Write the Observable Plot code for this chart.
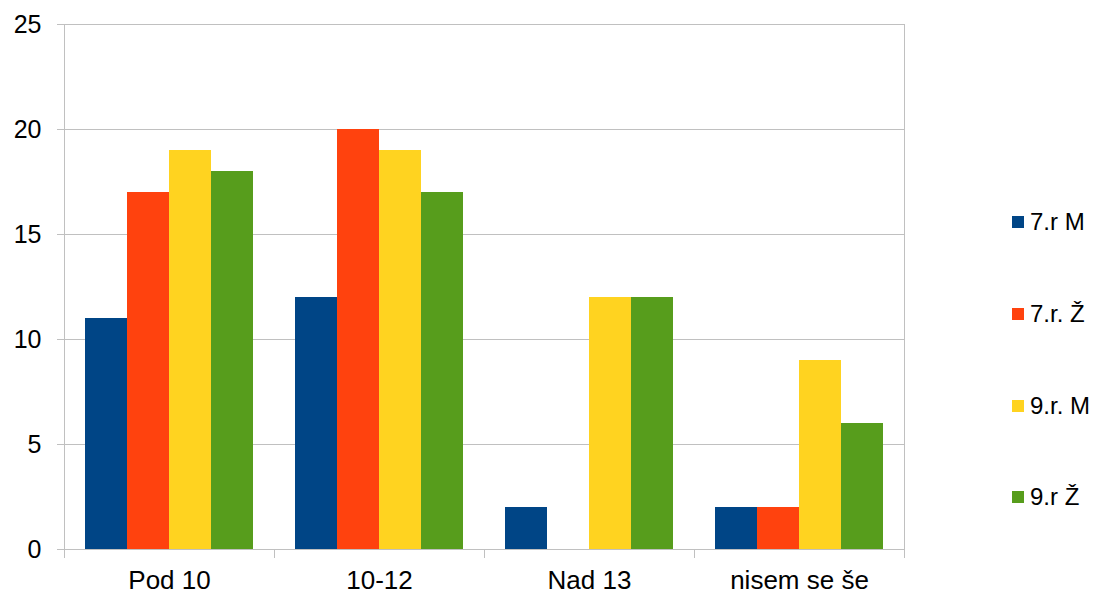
<!DOCTYPE html>
<html>
<head>
<meta charset="utf-8">
<script src="https://cdn.jsdelivr.net/npm/d3@7"></script>
<script src="https://cdn.jsdelivr.net/npm/@observablehq/plot@0.6"></script>
<style>
  html, body { margin: 0; padding: 0; background: #fff; }
  #wrap { position: relative; width: 1095px; height: 593px; font-family: "Liberation Sans", Arial, sans-serif; }
  #legend { position: absolute; left: 1012px; top: 0; }
  .item { position: absolute; left: 0; display: flex; align-items: center; white-space: nowrap; font-size: 24px; color: #000; }
  .sw { width: 12px; height: 12px; margin-right: 6px; }
</style>
</head>
<body>
<div id="wrap"><div id="legend"></div></div>
<script>
const categories = ["Pod 10", "10-12", "Nad 13", "nisem se še"];
const series = ["7.r M", "7.r. Ž", "9.r. M", "9.r Ž"];
const colors = ["#004586", "#ff420e", "#ffd320", "#579d1c"];
const s7M = [11, 12, 2, 2];
const s7Z = [17, 20, 0, 2];
const s9M = [19, 19, 12, 9];
const s9Z = [18, 17, 12, 6];
const yTicks = [0, 5, 10, 15, 20, 25];

const seriesValues = [s7M, s7Z, s9M, s9Z];
const data = [];
categories.forEach((c, i) => {
  series.forEach((s, j) => data.push({cat: c, series: s, value: seriesValues[j][i]}));
});

const W = 1095, H = 593, mT = 24, mB = 44;
const grid = "#c0c0c0";
const chart = Plot.plot({
  width: W,
  height: H,
  marginLeft: 63,
  marginRight: 190,
  marginTop: mT,
  marginBottom: mB,
  style: {fontFamily: "'Liberation Sans', Arial, sans-serif", background: "transparent"},
  fx: {domain: categories, padding: 0, label: null},
  x: {domain: series, paddingInner: 0, paddingOuter: 0.5, axis: null},
  y: {domain: [0, 25], label: null},
  color: {domain: series, range: colors},
  marks: [
    Plot.gridY(yTicks, {stroke: grid, strokeOpacity: 1}),
    Plot.barY(data, {fx: "cat", x: "series", y: "value", fill: "series"}),
    Plot.frame({anchor: "left", stroke: grid, insetBottom: -8, facetAnchor: "left"}),
    Plot.frame({anchor: "right", stroke: grid, insetBottom: -8, facetAnchor: "right"}),
    Plot.frame({anchor: "left", stroke: grid, insetTop: H - mT - mB, insetBottom: -8}),
    Plot.frame({anchor: "bottom", stroke: grid}),
    Plot.axisY(yTicks, {tickSize: 7, tickPadding: 16, stroke: grid, fill: "#000", fontSize: 25, label: null}),
    Plot.axisFx({anchor: "bottom", tickSize: 0, tickPadding: 21, fontSize: 26, fill: "#000", label: null})
  ]
});
document.getElementById("wrap").prepend(chart);

const legend = document.getElementById("legend");
const legendY = [222, 314, 406, 497];
series.forEach((s, i) => {
  const d = document.createElement("div");
  d.className = "item";
  d.style.top = (legendY[i] - 15) + "px";
  d.style.height = "30px";
  d.innerHTML = `<span class="sw" style="background:${colors[i]}"></span><span>${s}</span>`;
  legend.appendChild(d);
});
</script>
</body>
</html>
